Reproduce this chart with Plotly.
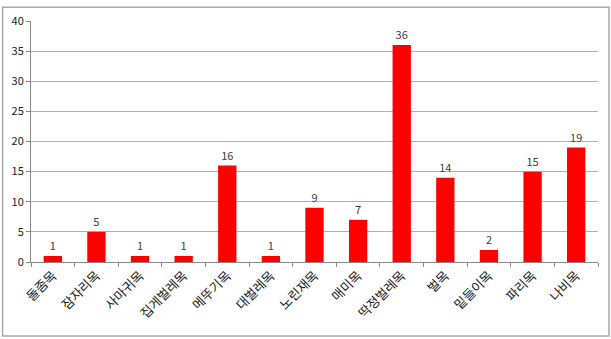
import plotly.graph_objects as go

categories = ["돌좀목", "잠자리목", "사마귀목", "집게벌레목", "메뚜기목", "대벌레목", "노린재목",
              "매미목", "딱정벌레목", "벌목", "밑들이목", "파리목", "나비목"]
values = [1, 5, 1, 1, 16, 1, 9, 7, 36, 14, 2, 15, 19]
y_ticks = [0, 5, 10, 15, 20, 25, 30, 35, 40]

FONT = "Noto Sans CJK KR"

fig = go.Figure(go.Bar(
    x=categories, y=values,
    marker=dict(color="#ff0000", line=dict(width=0)),
    text=[str(v) for v in values], textposition="outside",
    textfont=dict(size=11, color="#404040", family=FONT),
    cliponaxis=False,
))

L, R, T, B = 29, 13, 18, 77
W, H = 611, 339
pw, ph = W - L - R, H - T - B

def px(x):
    return (x - L) / pw

def py(y):
    return (H - B - y) / ph

fig.update_layout(
    width=W, height=H,
    margin=dict(l=L, r=R, t=T, b=B),
    paper_bgcolor="white", plot_bgcolor="white",
    bargap=0.58,
    showlegend=False,
    font=dict(family=FONT, size=11, color="#404040"),
    xaxis=dict(
        tickangle=-45, tickfont=dict(size=13, family=FONT, color="#202020"),
        showline=True, linecolor="#888888", linewidth=1,
        ticks="outside", ticklen=4, tickcolor="#888888",
        tickson="boundaries", showgrid=False,
    ),
    yaxis=dict(
        range=[0, 40], tickvals=y_ticks,
        tickfont=dict(size=11, family=FONT, color="#202020"),
        showline=True, linecolor="#888888", linewidth=1,
        ticks="outside", ticklen=4, tickcolor="#888888",
        showgrid=True, gridcolor="#b0b0b0", gridwidth=1,
        zeroline=False,
    ),
    shapes=[dict(type="rect", xref="paper", yref="paper",
                 x0=px(0.5), x1=px(609), y0=py(337), y1=py(4),
                 line=dict(color="#a8a8a8", width=1.5), fillcolor="rgba(0,0,0,0)", layer="below")],
)

fig.write_html("out.html")
